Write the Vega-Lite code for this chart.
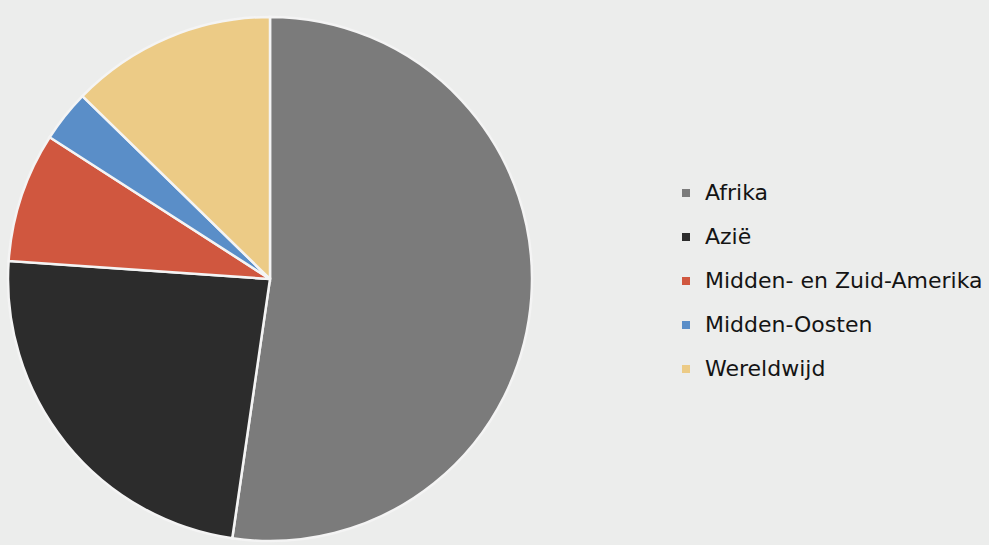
{
  "$schema": "https://vega.github.io/schema/vega-lite/v6.json",
  "width": 540,
  "height": 558,
  "padding": {"left": 0, "top": 0, "right": 449, "bottom": 0},
  "autosize": {"type": "none"},
  "background": "#ecedec",
  "config": {"view": {"stroke": null}},
  "data": {
    "values": [
      {"regio": "Afrika", "aandeel": 52.3, "volgorde": 1},
      {"regio": "Azië", "aandeel": 23.8, "volgorde": 2},
      {"regio": "Midden- en Zuid-Amerika", "aandeel": 8.0, "volgorde": 3},
      {"regio": "Midden-Oosten", "aandeel": 3.2, "volgorde": 4},
      {"regio": "Wereldwijd", "aandeel": 12.7, "volgorde": 5}
    ]
  },
  "mark": {"type": "arc", "radius": 262, "stroke": "#f4f4f4", "strokeWidth": 2.5},
  "encoding": {
    "theta": {"field": "aandeel", "type": "quantitative", "stack": true},
    "order": {"field": "volgorde", "type": "quantitative"},
    "color": {
      "field": "regio",
      "type": "nominal",
      "sort": ["Afrika", "Azië", "Midden- en Zuid-Amerika", "Midden-Oosten", "Wereldwijd"],
      "scale": {
        "domain": ["Afrika", "Azië", "Midden- en Zuid-Amerika", "Midden-Oosten", "Wereldwijd"],
        "range": ["#7b7b7b", "#2c2c2c", "#d0573f", "#5a8ec8", "#eccb86"]
      },
      "legend": {
        "title": null,
        "orient": "none",
        "legendX": 675,
        "legendY": 182,
        "symbolType": "square",
        "symbolSize": 64,
        "symbolStrokeWidth": 0,
        "labelFont": "DejaVu Sans",
        "labelFontSize": 22,
        "labelColor": "#141414",
        "labelOffset": 8,
        "rowPadding": 22,
        "labelLimit": 400
      }
    }
  }
}
